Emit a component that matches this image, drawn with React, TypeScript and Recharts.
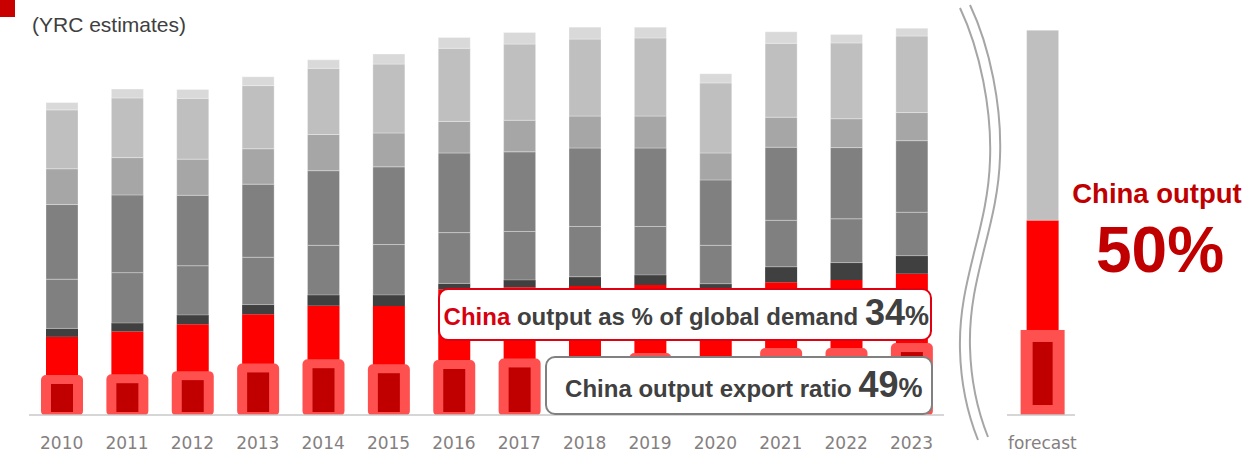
import React from "react";
import { Bar, BarChart, XAxis, YAxis } from "recharts";

// categories: 14 actual years, an empty slot for the axis break, then the forecast
const years = [
  "2010", "2011", "2012", "2013", "2014", "2015", "2016",
  "2017", "2018", "2019", "2020", "2021", "2022", "2023", "", "forecast",
];

// demand stack, index units (forecast total = 100), bottom to top
const chinaOutput = [20.3, 21.7, 23.6, 26.2, 28.4, 28.3, 32.7, 33.2, 33.5, 33.8, 32.5, 34.5, 35.1, 36.7, null, 50.6];
const regionDark = [2.2, 2.2, 2.4, 2.5, 2.8, 2.9, 1.5, 1.9, 2.4, 2.6, 1.6, 4.0, 4.5, 4.7, null, null];
const regionMidLow = [12.8, 13.1, 12.8, 12.3, 12.9, 13.1, 13.2, 12.6, 13.1, 12.6, 10.0, 12.1, 11.4, 11.3, null, null];
const regionMidHigh = [19.4, 20.2, 18.3, 19.0, 19.4, 20.2, 20.7, 20.7, 20.4, 20.4, 17.0, 19.0, 18.5, 18.6, null, null];
const regionSoft = [9.3, 9.7, 9.4, 9.2, 9.4, 8.8, 8.2, 8.2, 8.3, 8.3, 7.0, 7.8, 7.5, 7.3, null, null];
const regionLight = [15.3, 15.5, 15.8, 16.4, 17.2, 17.9, 19.0, 19.8, 20.0, 20.3, 18.2, 19.2, 19.7, 19.9, null, 49.4];
const regionPale = [1.9, 2.3, 2.3, 2.3, 2.2, 2.6, 2.8, 3.0, 3.1, 2.8, 2.4, 3.0, 2.2, 2.0, null, null];

// China exports, drawn over the red part of each bar
const chinaExports = [10.4, 10.6, 11.4, 13.4, 14.5, 13.2, 14.3, 14.7, 15.1, 16.1, 14.3, 17.4, 17.4, 18.7, null, 22.1];

const data = years.map((year, i) => ({
  year,
  china: chinaOutput[i],
  dark: regionDark[i],
  midLow: regionMidLow[i],
  midHigh: regionMidHigh[i],
  soft: regionSoft[i],
  light: regionLight[i],
  pale: regionPale[i],
  exports: chinaExports[i],
}));

const TICK_FONT = "'DejaVu Sans', Verdana, sans-serif";
const TEXT_FONT = "'Liberation Sans', Arial, sans-serif";
const SEP = { stroke: "#ffffff", strokeOpacity: 0.3, strokeWidth: 1 };

function ExportShape(props: any) {
  const { x, y, width, height, payload } = props;
  if (height == null || !width || !(height > 0)) return null;
  if (payload && payload.year === "forecast") {
    return (
      <g>
        <rect x={x - 6} y={y} width={width + 12} height={height + 1} fill="#FF5050" />
        <rect x={x + 6} y={y + 12} width={width - 12} height={height - 22} fill="#C00000" />
      </g>
    );
  }
  return (
    <g>
      <rect x={x - 5} y={y} width={width + 10} height={height + 1} rx={5} fill="#FF5050" />
      <rect x={x + 5} y={y + 9} width={width - 10} height={height - 12} fill="#C00000" />
    </g>
  );
}

export default function App() {
  return (
    <div
      style={{
        position: "absolute",
        left: 0,
        top: 0,
        width: 1248,
        height: 454,
        background: "#fff",
        overflow: "hidden",
      }}
    >
      <BarChart
        width={1248}
        height={454}
        data={data}
        margin={{ top: 11, right: 173, left: 29, bottom: 0 }}
      >
        <XAxis
          xAxisId="main"
          dataKey="year"
          height={39}
          tickSize={0}
          tickMargin={22}
          axisLine={{ stroke: "#C8C8C8", strokeWidth: 1.5 }}
          tickLine={false}
          interval={0}
          tick={{ fontSize: 17, fill: "#858080", fontFamily: TICK_FONT }}
        />
        <XAxis xAxisId="overlay" dataKey="year" hide />
        <YAxis hide width={0} domain={[0, 105]} allowDataOverflow />
        <Bar xAxisId="main" dataKey="china" stackId="d" barSize={32} fill="#FF0000" isAnimationActive={false} />
        <Bar xAxisId="main" dataKey="dark" stackId="d" barSize={32} fill="#404040" isAnimationActive={false} />
        <Bar xAxisId="main" dataKey="midLow" stackId="d" barSize={32} fill="#808080" {...SEP} isAnimationActive={false} />
        <Bar xAxisId="main" dataKey="midHigh" stackId="d" barSize={32} fill="#808080" {...SEP} isAnimationActive={false} />
        <Bar xAxisId="main" dataKey="soft" stackId="d" barSize={32} fill="#A6A6A6" {...SEP} isAnimationActive={false} />
        <Bar xAxisId="main" dataKey="light" stackId="d" barSize={32} fill="#BFBFBF" {...SEP} isAnimationActive={false} />
        <Bar xAxisId="main" dataKey="pale" stackId="d" barSize={32} fill="#D9D9D9" {...SEP} isAnimationActive={false} />
        <Bar
          xAxisId="overlay"
          dataKey="exports"
          barSize={32}
          shape={<ExportShape />}
          isAnimationActive={false}
        />
      </BarChart>

      <div style={{ position: "absolute", left: 0, top: 0, width: 15, height: 17, background: "#C80000" }} />

      <svg
        width={1248}
        height={454}
        style={{ position: "absolute", left: 0, top: 0, pointerEvents: "none" }}
      >
        <text x={32} y={31.5} fontSize={21} fill="#404040" fontFamily={TEXT_FONT}>
          (YRC estimates)
        </text>

        {/* axis break */}
        <rect x={944} y={411} width={63} height={8} fill="#fff" />
        <path
          d="M960,8 C980,50 992,110 990,160 C988,230 958,280 960,350 C961,390 970,420 978,440"
          fill="none"
          stroke="#A6A6A6"
          strokeWidth={2}
        />
        <path
          d="M970,5 C990,47 1002,107 1000,157 C998,227 968,277 970,347 C971,387 980,417 988,437"
          fill="none"
          stroke="#A6A6A6"
          strokeWidth={2}
        />

        {/* callout: share of global demand */}
        <rect x={439} y={289} width={492} height={51} rx={9} fill="#fff" stroke="#E00010" strokeWidth={2} />
        <text x={929} y={325} textAnchor="end" fontFamily={TEXT_FONT} fontWeight="bold" fill="#404040">
          <tspan fontSize={24} fill="#D7000F">China</tspan>
          <tspan fontSize={24}> output as % of global demand </tspan>
          <tspan fontSize={36}>34</tspan>
          <tspan fontSize={27}>%</tspan>
        </text>

        {/* callout: export ratio */}
        <rect x={546} y={357} width={386} height={57} rx={9} fill="#fff" stroke="#808080" strokeWidth={2} />
        <text x={922.5} y={396.5} textAnchor="end" fontFamily={TEXT_FONT} fontWeight="bold" fill="#404040">
          <tspan fontSize={24}>China output export ratio </tspan>
          <tspan fontSize={36}>49</tspan>
          <tspan fontSize={27}>%</tspan>
        </text>

        {/* forecast annotation */}
        <text x={1157} y={203} textAnchor="middle" fontSize={27.5} fontWeight="bold" fill="#C00000" fontFamily={TEXT_FONT}>
          China output
        </text>
        <text x={1160} y={271.5} textAnchor="middle" fontSize={64} fontWeight="bold" fill="#C00000" fontFamily={TEXT_FONT}>
          50%
        </text>
      </svg>
    </div>
  );
}
